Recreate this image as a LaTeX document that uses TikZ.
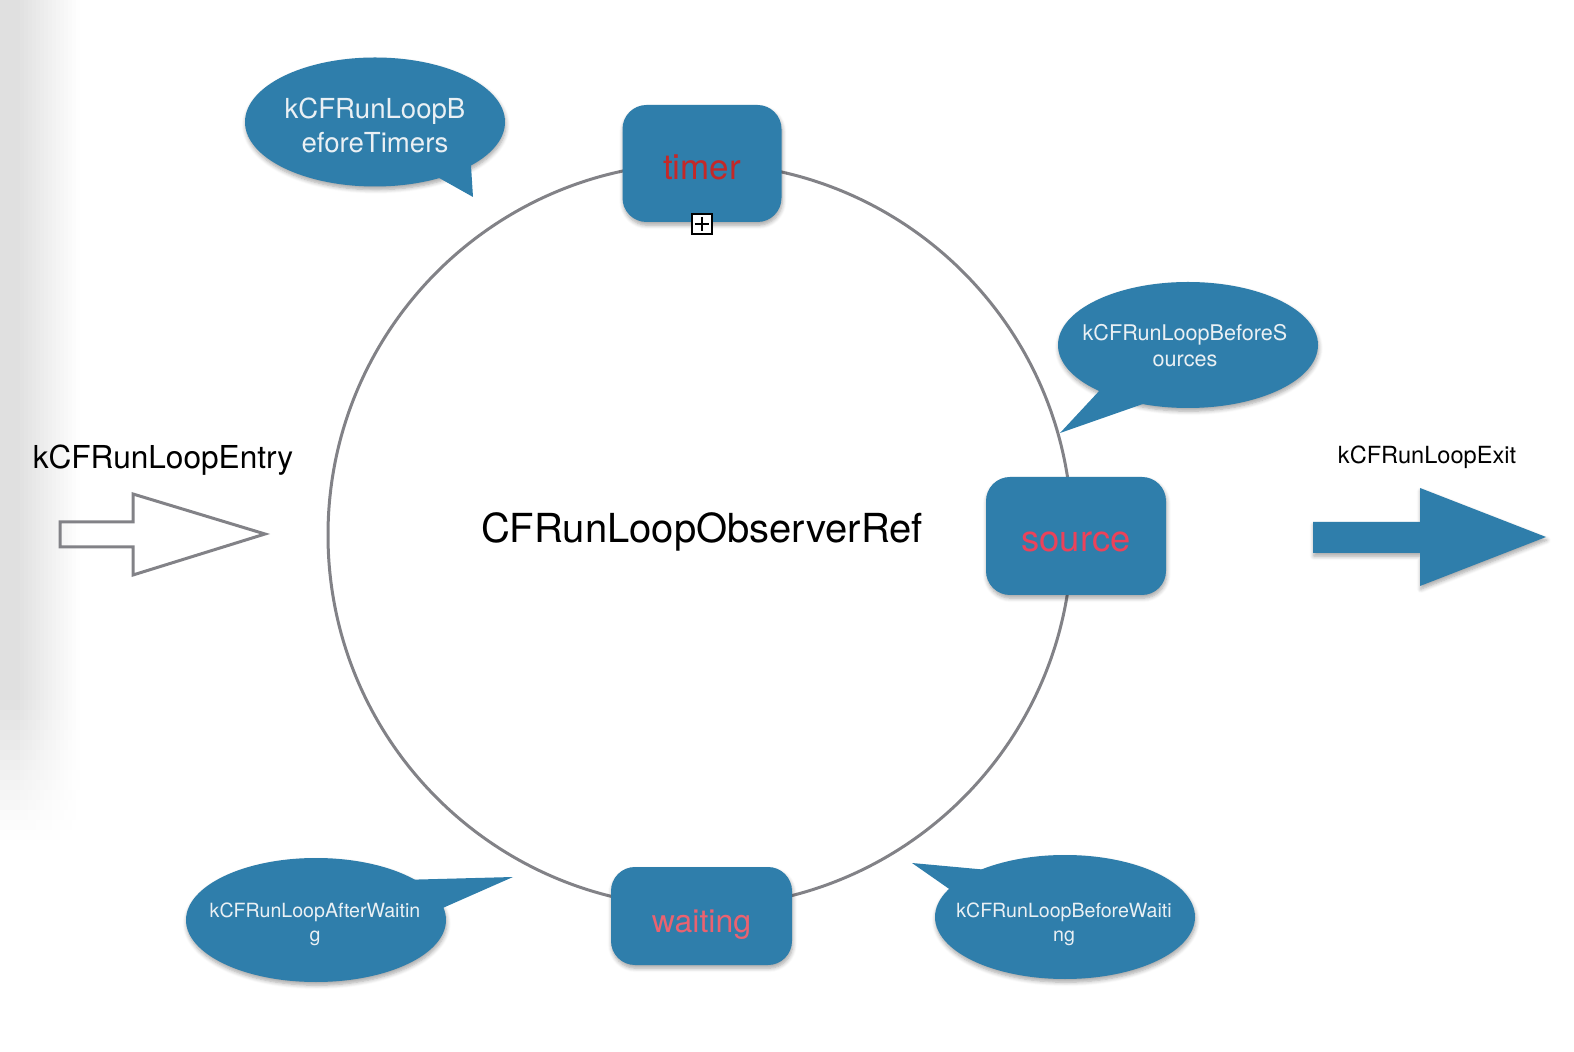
\documentclass[tikz,border=0pt]{standalone}
\usepackage{fontspec}
\setmainfont{TeX Gyre Heros}
\usetikzlibrary{shapes.geometric,shadows.blur}
\definecolor{bubble}{RGB}{47,126,171}
\definecolor{ringgray}{RGB}{130,130,135}
\definecolor{timerred}{RGB}{196,40,40}
\definecolor{sourcered}{RGB}{236,66,90}
\definecolor{waitred}{RGB}{234,98,112}
\definecolor{bubtext}{RGB}{234,240,244}
\begin{document}
\begin{tikzpicture}[x=0.5pt,y=-0.5pt,
  softshadow/.style={blur shadow={shadow blur steps=6, shadow xshift=0.4pt, shadow yshift=-1.6pt, shadow opacity=35, shadow blur radius=2pt}},
  statebox/.style={rectangle,rounded corners=12pt,fill=bubble,softshadow,inner sep=0pt},
  callout/.style={ellipse,fill=bubble,softshadow,inner sep=0pt,minimum width=130pt,minimum height=63pt},
  callouttext/.style={inner sep=0pt,text=bubtext,align=center},
  tail/.style={fill=bubble},
  label/.style={inner sep=0pt,text=black}
  ]
\useasboundingbox (0,0) rectangle (1574,1052);
% faint grey edge at the left, built from solid strips
\foreach \i in {0,...,19}{
  \pgfmathsetmacro{\g}{max(0,min(12,12*(80-(4*\i+2))/62))}
  \fill[black!\g] ({4*\i},0) rectangle ({4*\i+4.4},700);
  \foreach \j in {0,...,13}{
    \pgfmathsetmacro{\h}{\g*(1-(\j+0.5)/14)}
    \fill[black!\h] ({4*\i},{700+10*\j}) rectangle ({4*\i+4.4},{710.4+10*\j});
  }
}

% the loop
\node[circle, draw=ringgray, line width=1.5pt, minimum size=372pt, inner sep=0pt] (loop) at (700,535) {};
\node[label, font=\fontsize{20}{24}\selectfont] (title) at (702,532) {CFRunLoopObserverRef};

% state boxes
\node[statebox, minimum width=79.5pt, minimum height=58.5pt] (timer) at (702,163.5) {};
\node[label, text=timerred, font=\fontsize{17.5}{20}\selectfont] at ([yshift=-1.8pt]timer.center) {timer};
\node[statebox, minimum width=90pt, minimum height=59pt] (source) at (1076,536) {};
\node[label, text=sourcered, font=\fontsize{18.2}{21}\selectfont] at ([yshift=-3pt]source.center) {source};
\node[statebox, minimum width=90.5pt, minimum height=49pt] (waiting) at (701.5,916) {};
\node[label, text=waitred, font=\fontsize{16}{19}\selectfont] at ([yshift=-4.5pt]waiting.center) {waiting};

% small handle under timer
\node[draw=black, fill=white, line width=0.8pt, minimum size=10pt, inner sep=0pt] (handle) at (702,224) {};
\draw[line width=0.8pt] ([yshift=3.6pt]handle.center) -- ([yshift=-3.6pt]handle.center);
\draw[line width=0.8pt] ([xshift=-3.6pt]handle.center) -- ([xshift=3.6pt]handle.center);

% callouts
\node[callout, minimum height=64.5pt] (bt) at (375,122) {};
\coordinate (bttip) at (473,197);
\fill[tail] (425,170) -- (bttip) -- (470,150) -- cycle;
\node[callouttext, font=\fontsize{13.8}{17}\selectfont] at (375,125) {kCFRunLoopB\\eforeTimers};

\node[callout] (bs) at (1188,345) {};
\coordinate (bstip) at (1060,433);
\fill[tail] (1114,375) -- (bstip) -- (1160,398) -- cycle;
\node[callouttext, font=\fontsize{10.8}{13}\selectfont] at (1185,346) {kCFRunLoopBeforeS\\ources};

\node[callout, minimum height=62pt] (aw) at (316,920) {};
\coordinate (awtip) at (513,877);
\fill[tail] (400,880) -- (awtip) -- (420,918) -- cycle;
\node[callouttext, font=\fontsize{9.8}{12}\selectfont] at (315,924) {kCFRunLoopAfterWaitin\\g};

\node[callout, minimum height=62pt] (bw) at (1065,917) {};
\coordinate (bwtip) at (912,863);
\fill[tail] (1010,872) -- (bwtip) -- (965,900) -- cycle;
\node[callouttext, font=\fontsize{9.8}{12}\selectfont] at (1064,924) {kCFRunLoopBeforeWaiti\\ng};

% entry arrow
\node[label, font=\fontsize{15.8}{19}\selectfont] (entry) at (163,460) {kCFRunLoopEntry};
\draw[ringgray, line width=1.5pt, line join=miter] (60,522) -- (133,522) -- (133,494) -- (265,534) -- (133,575) -- (133,547) -- (60,547) -- cycle;

% exit arrow
\node[label, font=\fontsize{11.8}{14}\selectfont] (exit) at (1427,457) {kCFRunLoopExit};
\fill[bubble, softshadow] (1313,522) -- (1420,522) -- (1420,488) -- (1546,537) -- (1420,586) -- (1420,553) -- (1313,553) -- cycle;
\end{tikzpicture}
\end{document}
